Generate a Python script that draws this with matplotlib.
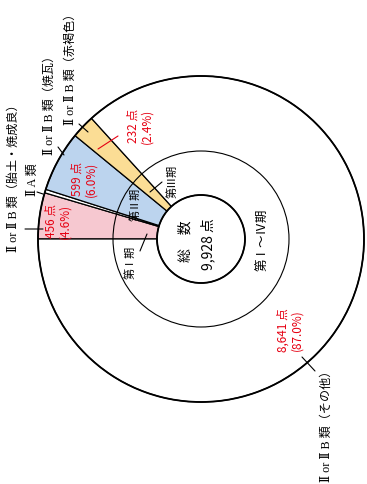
import matplotlib
matplotlib.use('Agg')
import matplotlib.pyplot as plt
from matplotlib.patches import Circle

# data (points per class)
counts = [456, 599, 232, 8641]
pct = ['4.6%', '6.0%', '2.4%', '87.0%']
iia_sliver = 35          # Ⅱ A類 - only a hairline in the original
total = 9928
colors = ['#f6c8d0', '#bcd4ee', '#fbdd95', 'white']
cat_labels = ['Ⅱ or Ⅱ B 類（胎土・焼成良）', 'Ⅱ A 類', 'Ⅱ or Ⅱ B 類（焼瓦）',
              'Ⅱ or Ⅱ B 類（赤褐色）', 'Ⅱ or Ⅱ B 類（その他）']
period_labels = ['第Ⅰ期', '第Ⅱ期', '第Ⅲ期']
all_period = '第Ⅰ～Ⅳ期'

R_OUT, R_MID, R_IN = 163, 88, 44
CX, CY = 201, 240
RED = '#e60012'
SERIF = ['Liberation Serif', 'DejaVu Serif', 'Noto Sans CJK JP']
SANS = ['Noto Sans CJK JP', 'DejaVu Sans']


def P(x, y):
    # picture pixel -> data coords (centre of the pie = 0,0)
    return (x - CX, CY - y)


fig = plt.figure(figsize=(3.67, 4.85), dpi=100)
ax = fig.add_axes([0, 0, 1, 1])

sizes = [counts[0], iia_sliver, counts[1], counts[2], counts[3]]
cols = [colors[0], 'white', colors[1], colors[2], colors[3]]
ax.pie(sizes, colors=cols, radius=R_OUT, startangle=180, counterclock=False,
       wedgeprops=dict(width=R_OUT - R_IN, edgecolor='black', linewidth=0.9))
ax.add_patch(Circle((0, 0), R_MID, fill=False, edgecolor='black', linewidth=0.8, zorder=5))
ax.add_patch(Circle((0, 0), R_OUT, fill=False, edgecolor='black', linewidth=1.3, zorder=5))
ax.add_patch(Circle((0, 0), R_IN, fill=False, edgecolor='black', linewidth=1.3, zorder=5))

ax.set_aspect('equal')
ax.set_xlim(-CX, 367 - CX)
ax.set_ylim(CY - 485, CY)
ax.axis('off')

# category labels (outside)
cat_pos = [(14, 175), (33, 180), (50, 102), (71, 66), (327, 423)]
for txt, (x, y) in zip(cat_labels, cat_pos):
    ax.text(*P(x, y), txt, rotation=90, ha='center', va='center',
            fontsize=8.7, family=SERIF)

leaders = [((25, 230), (43, 230)), ((37, 193), (43, 195)), ((58, 148), (64, 156)),
           ((79, 125), (88, 133)), ((302, 358), (315, 372))]
for a, b in leaders:
    ax.annotate('', xy=P(*b), xytext=P(*a),
                arrowprops=dict(arrowstyle='-', color='black', lw=0.8, shrinkA=0, shrinkB=0))

# counts in red
val_pos = [(58, 221), (84, 179), (140, 126), (290, 330)]
for c, p, (x, y) in zip(counts, pct, val_pos):
    ax.text(*P(x, y), f'{c:,} 点\n({p})', rotation=90, ha='center', va='center',
            fontsize=8.5, color=RED, family=SANS, linespacing=1.05)
ax.annotate('', xy=P(118, 137), xytext=P(98, 150),
            arrowprops=dict(arrowstyle='-', color=RED, lw=0.8, shrinkA=0, shrinkB=0))

# centre
ax.text(*P(186, 241), '総　数', rotation=90, ha='center', va='center', fontsize=10, family=SANS)
ax.text(*P(208, 244), f'{total:,} 点', rotation=90, ha='center', va='center', fontsize=10, family=SANS)
ax.text(*P(263, 240), all_period, rotation=90, ha='center', va='center', fontsize=9, family=SANS)

# periods
per_pos = [(130, 262), (135, 204), (172, 181)]
for txt, (x, y) in zip(period_labels, per_pos):
    ax.text(*P(x, y), txt, rotation=90, ha='center', va='center', fontsize=8, family=SANS)
for a, b in [((140, 252), (147, 235)), ((150, 193), (162, 183))]:
    ax.annotate('', xy=P(*b), xytext=P(*a),
                arrowprops=dict(arrowstyle='-', color='black', lw=0.8, shrinkA=0, shrinkB=0))

fig.savefig('out.png', dpi=100)
